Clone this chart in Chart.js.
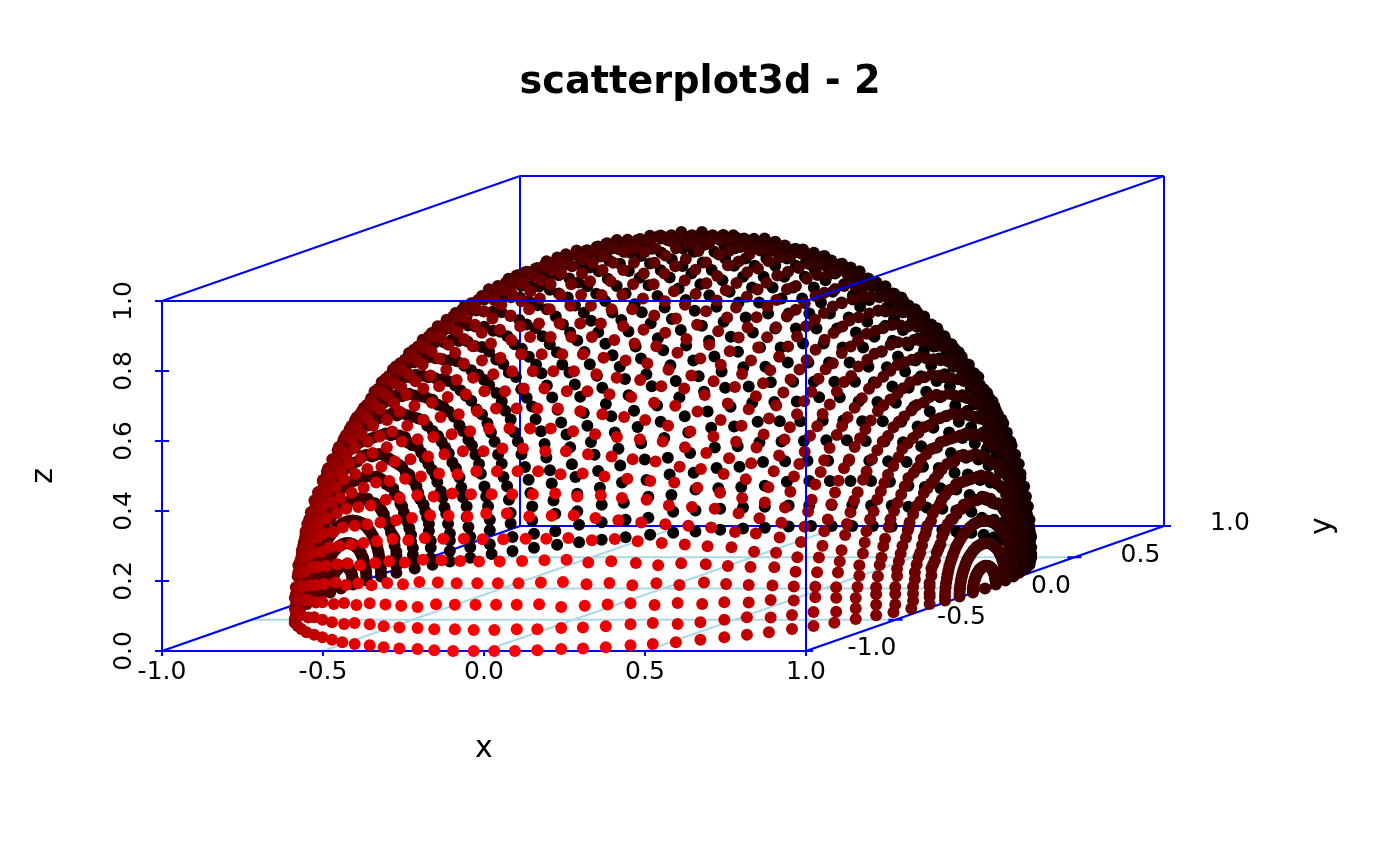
<!DOCTYPE html>
<html>
<head>
<meta charset="utf-8">
<title>scatterplot3d - 2</title>
<script src="https://cdn.jsdelivr.net/npm/chart.js@4/dist/chart.umd.min.js"></script>
<style>
  html, body { margin: 0; background: #fff; }
  canvas { display: block; }
</style>
</head>
<body>
<canvas id="sphereChart" width="1400" height="866"></canvas>
<script>
const xTicks = [-1, -0.5, 0, 0.5, 1];
const yTicks = [-1, -0.5, 0, 0.5, 1];
const zTicks = [0, 0.2, 0.4, 0.6, 0.8, 1];
const xTickLabels = ['-1.0', '-0.5', '0.0', '0.5', '1.0'];
const yTickLabels = ['-1.0', '-0.5', '0.0', '0.5', '1.0'];
const zTickLabels = ['0.0', '0.2', '0.4', '0.6', '0.8', '1.0'];

// Rings of constant x. Values are typed for one side only: the picture is
// symmetric, so each ring is used at +x and -x, and each row at +y and -y.
const poleX = 1;
const ringX = [.998,.992,.982,.967,.949,.927,.901,.871,.838,.801,.762,.718,.672,.624,.572,.518,.463,.405,.345,.285,.223,.160,.096,.032];
const ringY = [
[.064,.064,.064,.063,.062,.061,.059,.058,.056,.054,.051,.049,.046,.043,.040,.037,.033,.030,.026,.022,.018,.014,.010,.006,.002],
[.128,.128,.127,.126,.124,.121,.119,.115,.111,.107,.102,.097,.092,.086,.080,.073,.066,.059,.052,.044,.036,.028,.020,.012,.004],
[.191,.191,.190,.188,.185,.181,.177,.172,.167,.160,.153,.146,.137,.129,.119,.109,.099,.088,.077,.066,.054,.043,.031,.018,.006],
[.25,.25,.25,.25,.25,.24,.24,.23,.22,.21,.20,.19,.18,.17,.16,.15,.13,.12,.10,.09,.07,.06,.04,.02,.01],
[.32,.31,.31,.31,.30,.30,.29,.28,.27,.26,.25,.24,.23,.21,.20,.18,.16,.15,.13,.11,.09,.07,.05,.03,.01],
[.38,.37,.37,.37,.36,.36,.35,.34,.33,.31,.30,.29,.27,.25,.23,.21,.19,.17,.15,.13,.11,.08,.06,.04,.01],
[.43,.43,.43,.43,.42,.41,.40,.39,.38,.36,.35,.33,.31,.29,.27,.25,.22,.20,.18,.15,.12,.10,.07,.04,.01],
[.49,.49,.49,.48,.47,.47,.45,.44,.43,.41,.39,.37,.35,.33,.31,.28,.25,.23,.20,.17,.14,.11,.08,.05,.02],
[.55,.54,.54,.54,.53,.52,.51,.49,.48,.46,.44,.42,.39,.37,.34,.31,.28,.25,.22,.19,.16,.12,.09,.05,.02],
[.60,.60,.59,.59,.58,.57,.55,.54,.52,.50,.48,.46,.43,.40,.37,.34,.31,.28,.24,.21,.17,.13,.10,.06,.02],
[.65,.65,.64,.64,.63,.62,.60,.58,.56,.54,.52,.49,.47,.44,.40,.37,.34,.30,.26,.22,.18,.14,.10,.06,.02],
[.70,.69,.69,.68,.67,.66,.64,.63,.61,.58,.56,.53,.50,.47,.43,.40,.36,.32,.28,.24,.20,.15,.11,.07,.02],
[.74,.74,.73,.73,.72,.70,.69,.67,.64,.62,.59,.56,.53,.50,.46,.42,.38,.34,.30,.26,.21,.16,.12,.07,.02],
[.78,.78,.78,.77,.76,.74,.72,.70,.68,.66,.63,.60,.56,.53,.49,.45,.41,.36,.32,.27,.22,.17,.12,.08,.03],
[.82,.82,.81,.80,.79,.78,.76,.74,.71,.69,.66,.62,.59,.55,.51,.47,.43,.38,.33,.28,.23,.18,.13,.08,.03],
[.86,.85,.85,.84,.83,.81,.79,.77,.74,.72,.69,.65,.61,.57,.53,.49,.44,.40,.35,.30,.24,.19,.14,.08,.03],
[.89,.89,.88,.87,.86,.84,.82,.80,.77,.74,.71,.68,.64,.60,.55,.51,.46,.41,.36,.31,.25,.20,.14,.09,.03],
[.91,.91,.91,.90,.88,.87,.85,.82,.80,.77,.73,.70,.66,.61,.57,.52,.47,.42,.37,.32,.26,.20,.15,.09,.03],
[.94,.94,.93,.92,.91,.89,.87,.85,.82,.79,.75,.72,.67,.63,.59,.54,.49,.43,.38,.32,.27,.21,.15,.09,.03],
[.96,.96,.95,.94,.93,.91,.89,.86,.84,.80,.77,.73,.69,.64,.60,.55,.50,.44,.39,.33,.27,.21,.15,.09,.03],
[.97,.97,.97,.96,.94,.93,.90,.88,.85,.82,.78,.74,.70,.66,.61,.56,.51,.45,.39,.34,.28,.22,.16,.09,.03],
[.99,.99,.98,.97,.95,.94,.91,.89,.86,.83,.79,.75,.71,.66,.62,.56,.51,.46,.40,.34,.28,.22,.16,.09,.03],
[1.00,.99,.99,.98,.96,.94,.92,.90,.87,.83,.80,.76,.71,.67,.62,.57,.52,.46,.40,.34,.28,.22,.16,.10,.03],
[1.00,1.00,.99,.98,.97,.95,.93,.90,.87,.84,.80,.76,.72,.67,.62,.57,.52,.46,.40,.35,.28,.22,.16,.10,.03]
];
const ringZ = [
[0,.004,.008,.012,.016,.020,.024,.028,.031,.035,.038,.042,.045,.047,.050,.053,.055,.057,.059,.060,.061,.062,.063,.064,.064],
[0,.008,.016,.024,.032,.040,.048,.055,.063,.070,.076,.083,.089,.095,.100,.105,.109,.113,.117,.120,.123,.125,.126,.127,.128],
[0,.012,.024,.037,.049,.060,.072,.083,.094,.104,.114,.124,.133,.142,.149,.157,.164,.170,.175,.179,.183,.186,.189,.190,.191],
[0,.02,.03,.05,.06,.08,.10,.11,.12,.14,.15,.16,.18,.19,.20,.21,.22,.22,.23,.24,.24,.25,.25,.25,.25],
[0,.02,.04,.06,.08,.10,.12,.14,.15,.17,.19,.20,.22,.23,.25,.26,.27,.28,.29,.30,.30,.31,.31,.31,.31],
[0,.02,.05,.07,.10,.12,.14,.16,.18,.20,.22,.24,.26,.28,.29,.31,.32,.33,.34,.35,.36,.37,.37,.37,.38],
[0,.03,.06,.08,.11,.14,.16,.19,.21,.24,.26,.28,.30,.32,.34,.36,.37,.38,.40,.41,.42,.42,.43,.43,.43],
[0,.03,.06,.09,.12,.15,.18,.21,.24,.27,.29,.32,.34,.36,.38,.40,.42,.44,.45,.46,.47,.48,.48,.49,.49],
[0,.03,.07,.10,.14,.17,.20,.24,.27,.30,.33,.35,.38,.40,.43,.45,.47,.48,.50,.51,.52,.53,.54,.54,.55],
[0,.04,.08,.11,.15,.19,.22,.26,.29,.33,.36,.39,.42,.44,.47,.49,.51,.53,.55,.56,.57,.58,.59,.60,.60],
[0,.04,.08,.12,.16,.20,.24,.28,.32,.35,.39,.42,.45,.48,.51,.53,.55,.57,.59,.61,.62,.63,.64,.65,.65],
[0,.04,.09,.13,.18,.22,.26,.30,.34,.38,.42,.45,.48,.52,.54,.57,.59,.62,.64,.65,.67,.68,.69,.69,.70],
[0,.05,.09,.14,.19,.23,.28,.32,.36,.40,.44,.48,.52,.55,.58,.61,.63,.66,.68,.69,.71,.72,.73,.74,.74],
[0,.05,.10,.15,.20,.25,.29,.34,.38,.43,.47,.51,.54,.58,.61,.64,.67,.69,.71,.73,.75,.76,.77,.78,.78],
[0,.05,.10,.16,.21,.26,.31,.36,.40,.45,.49,.53,.57,.61,.64,.67,.70,.73,.75,.77,.79,.80,.81,.82,.82],
[0,.05,.11,.16,.22,.27,.32,.37,.42,.47,.51,.55,.59,.63,.67,.70,.73,.76,.78,.80,.82,.83,.84,.85,.85],
[0,.06,.11,.17,.22,.28,.33,.38,.44,.48,.53,.57,.62,.66,.69,.73,.76,.79,.81,.83,.85,.86,.88,.88,.89],
[0,.06,.12,.17,.23,.29,.34,.40,.45,.50,.55,.59,.64,.68,.71,.75,.78,.81,.84,.86,.88,.89,.90,.91,.91],
[0,.06,.12,.18,.24,.30,.35,.41,.46,.51,.56,.61,.65,.69,.73,.77,.80,.83,.86,.88,.90,.91,.93,.93,.94],
[0,.06,.12,.18,.24,.30,.36,.42,.47,.52,.57,.62,.67,.71,.75,.79,.82,.85,.88,.90,.92,.93,.95,.95,.96],
[0,.06,.12,.19,.25,.31,.37,.42,.48,.53,.58,.63,.68,.72,.76,.80,.83,.86,.89,.91,.93,.95,.96,.97,.97],
[0,.06,.13,.19,.25,.31,.37,.43,.48,.54,.59,.64,.69,.73,.77,.81,.84,.88,.90,.93,.95,.96,.97,.98,.99],
[0,.06,.13,.19,.25,.31,.37,.43,.49,.54,.60,.65,.69,.74,.78,.82,.85,.88,.91,.93,.95,.97,.98,.99,.99],
[0,.06,.13,.19,.25,.31,.38,.43,.49,.55,.60,.65,.70,.74,.78,.82,.85,.89,.91,.94,.96,.97,.99,.99,1.00]
];

// oblique projection of the y axis onto the flat x and z scales
const yShiftX = 179 / 322;
const yShiftZ = 62.5 / 350;

function project(x, y, z) {
  return { x: x + (y + 1) * yShiftX, y: z + (y + 1) * yShiftZ };
}

const sphere = [{ x: -poleX, y: 0, z: 0 }, { x: poleX, y: 0, z: 0 }];
ringX.forEach(function (rx, k) {
  ringY[k].forEach(function (ry, i) {
    const rz = ringZ[k][i];
    sphere.push({ x: -rx, y: ry, z: rz }, { x: rx, y: ry, z: rz });
    sphere.push({ x: -rx, y: -ry, z: rz }, { x: rx, y: -ry, z: rz });
  });
});
// back points first, front points on top
sphere.sort(function (a, b) { return b.y - a.y; });

const spherePoints = sphere.map(function (p) { return project(p.x, p.y, p.z); });
const sphereColors = sphere.map(function (p) {
  const depth = (1 - p.y) / 2;
  return 'rgb(' + Math.round(255 * depth * depth) + ',0,0)';
});

function path(list) {
  let out = [];
  list.forEach(function (s) {
    out.push(project(s[0], s[1], s[2]), project(s[3], s[4], s[5]), { x: null, y: null });
  });
  return out;
}

const gridSegs = [];
xTicks.forEach(function (v) { gridSegs.push([v, -1, 0, v, 1, 0]); });
yTicks.forEach(function (v) { gridSegs.push([-1, v, 0, 1, v, 0]); });

const backSegs = [
  [-1, -1, 0, 1, -1, 0], [-1, 1, 0, 1, 1, 0],
  [-1, -1, 0, -1, 1, 0], [1, -1, 0, 1, 1, 0],
  [-1, 1, 0, -1, 1, 1], [1, 1, 0, 1, 1, 1],
  [-1, 1, 1, 1, 1, 1], [-1, -1, 1, -1, 1, 1]
];
xTicks.forEach(function (v) { backSegs.push([v, -1, 0, v, -1, -0.014]); });
yTicks.forEach(function (v) { backSegs.push([1 - 0.022, v, 0, 1 + 0.022, v, 0]); });

const frontSegs = [
  [-1, -1, 0, -1, -1, 1], [1, -1, 0, 1, -1, 1],
  [-1, -1, 1, 1, -1, 1], [1, -1, 1, 1, 1, 1]
];
zTicks.forEach(function (v) { frontSegs.push([-1 - 0.022, -1, v, -1 + 0.022, -1, v]); });

function lineSet(data, color, order) {
  return {
    data: data, showLine: true, spanGaps: false, borderColor: color, borderWidth: 2,
    pointRadius: 0, order: order, clip: false
  };
}

const axisText = {
  id: 'axisText',
  afterDraw: function (chart) {
    const c = chart.ctx, sx = chart.scales.x, sy = chart.scales.y;
    c.save();
    c.fillStyle = '#000';
    c.textAlign = 'center';
    c.textBaseline = 'middle';
    c.font = '25px "DejaVu Sans"';
    xTicks.forEach(function (v, i) {
      c.fillText(xTickLabels[i], sx.getPixelForValue(v), 672);
    });
    yTicks.forEach(function (v, i) {
      const p = project(1, v, 0);
      c.fillText(yTickLabels[i], sx.getPixelForValue(p.x) + 66, sy.getPixelForValue(p.y) - 2);
    });
    zTicks.forEach(function (v, i) {
      c.save();
      c.translate(124, sy.getPixelForValue(v));
      c.rotate(-Math.PI / 2);
      c.fillText(zTickLabels[i], 0, 0);
      c.restore();
    });
    c.font = '30px "DejaVu Sans"';
    c.fillText('x', sx.getPixelForValue(0), 749);
    c.save();
    c.translate(44, sy.getPixelForValue(0.5));
    c.rotate(-Math.PI / 2);
    c.fillText('z', 0, 0);
    c.restore();
    c.save();
    c.translate(1323, 526);
    c.rotate(-Math.PI / 2);
    c.fillText('y', 0, 0);
    c.restore();
    c.restore();
  }
};

new Chart(document.getElementById('sphereChart'), {
  type: 'scatter',
  data: {
    datasets: [
      lineSet(path(frontSegs), '#0000ff', 1),
      {
        data: spherePoints,
        pointBackgroundColor: sphereColors,
        pointBorderWidth: 0,
        pointRadius: 6,
        order: 2,
        clip: false
      },
      lineSet(path(backSegs), '#0000ff', 3),
      lineSet(path(gridSegs), 'lightblue', 4)
    ]
  },
  options: {
    responsive: false,
    animation: false,
    layout: { padding: 0, autoPadding: false },
    plugins: {
      legend: { display: false },
      tooltip: { enabled: false },
      title: {
        display: true,
        text: 'scatterplot3d - 2',
        color: '#000',
        font: { family: '"DejaVu Sans"', size: 38.3, weight: 'bold', lineHeight: 1.2 },
        padding: { top: 60, bottom: 14 }
      }
    },
    scales: {
      x: { type: 'linear', display: false, min: -1 - 162 / 322, max: (1400 - 162) / 322 - 1 },
      y: { type: 'linear', display: false, min: (651 - 866) / 350, max: (651 - 120) / 350 }
    }
  },
  plugins: [axisText]
});
</script>
</body>
</html>
